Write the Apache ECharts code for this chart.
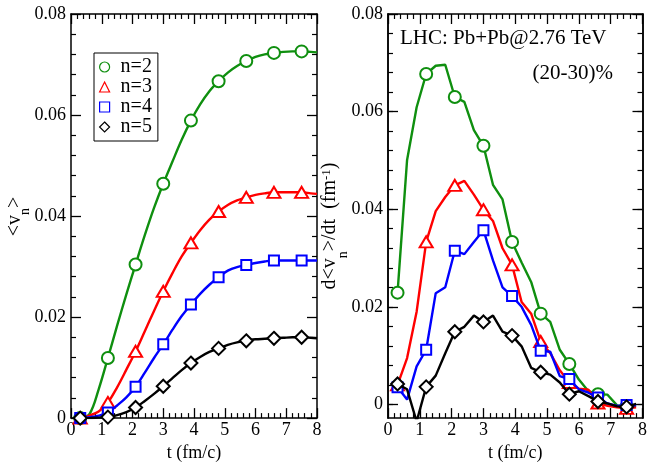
<!DOCTYPE html>
<html><head><meta charset="utf-8">
<script src="https://cdn.jsdelivr.net/npm/echarts@6/dist/echarts.min.js"></script>
<style>html,body{margin:0;padding:0;background:#fff}#c{width:650px;height:467px}</style>
</head><body><div id="c"></div>
<script>
// ---- data ----
const tLeft = [0.3,0.6,0.9,1.2,1.5,1.8,2.1,2.4,2.7,3.0,3.3,3.6,3.9,4.2,4.5,4.8,5.1,5.4,5.7,6.0,6.3,6.6,6.9,7.2,7.5,7.8,8.0];
const vn2 = [0,0.0008,0.0057,0.0119,0.0183,0.0245,0.0304,0.0362,0.0416,0.0464,0.0508,0.0551,0.0589,0.0621,0.0647,0.0667,0.0684,0.0697,0.0707,0.0715,0.0720,0.0723,0.0725,0.0726,0.0726,0.0725,0.0724];
const vn3 = [0,0.0005,0.0013,0.0031,0.0061,0.0096,0.0132,0.0172,0.0212,0.0251,0.0287,0.0320,0.0347,0.0372,0.0393,0.0409,0.0422,0.0431,0.0437,0.0442,0.0445,0.0447,0.0447,0.0447,0.0447,0.0445,0.0444];
const vn4 = [0,0.0002,0.0005,0.0011,0.0025,0.0041,0.0062,0.0090,0.0119,0.0146,0.0175,0.0202,0.0225,0.0246,0.0264,0.0279,0.0292,0.0299,0.0303,0.0307,0.0310,0.0312,0.0312,0.0312,0.0312,0.0312,0.0312];
const vn5 = [0,0,0.0001,0.0002,0.0006,0.0012,0.0021,0.0034,0.0048,0.0063,0.0079,0.0095,0.0109,0.0121,0.0131,0.0138,0.0145,0.0150,0.0153,0.0156,0.0157,0.0158,0.0159,0.0160,0.0160,0.0159,0.0158];

const tRight = [0.3,0.6,0.9,1.2,1.5,1.8,2.1,2.4,2.7,3.0,3.3,3.6,3.9,4.2,4.5,4.8,5.1,5.4,5.7,6.0,6.3,6.6,6.9,7.2,7.5,7.8];
const dv2 = [0.0229,0.0501,0.0609,0.0677,0.0694,0.0696,0.0630,0.0620,0.0562,0.0530,0.0450,0.0420,0.0333,0.0291,0.0251,0.0186,0.0169,0.0112,0.0083,0.0051,0.0027,0.0021,0.0020,-0.0002,-0.0004,-0.0003];
const dv3 = [0.0040,0.0095,0.0190,0.0333,0.0396,0.0425,0.0449,0.0458,0.0430,0.0399,0.0376,0.0320,0.0286,0.0210,0.0186,0.0129,0.0105,0.0070,0.0045,0.0032,0.0030,0.0003,-0.0003,-0.0006,-0.0008,-0.0006];
const dv4 = [0.0035,0.0010,0.0078,0.0112,0.0228,0.0240,0.0315,0.0308,0.0333,0.0357,0.0295,0.0240,0.0222,0.0200,0.0163,0.0110,0.0108,0.0058,0.0052,0.0031,0.0024,0.0014,0.0002,-0.0003,-0.0001,-0.0002];
const dv5 = [0.0042,0.0031,-0.0035,0.0036,0.0059,0.0105,0.0149,0.0159,0.0182,0.0169,0.0182,0.0149,0.0141,0.0119,0.0075,0.0066,0.0061,0.0045,0.0021,0.0027,0.0017,0.0006,0.0002,-0.0004,-0.0005,0.0001];

const seriesNames = ['n=2','n=3','n=4','n=5'];
const yMajorTicks = [0,0.02,0.04,0.06,0.08];
const yMinorTicks = [0,0.004,0.008,0.012,0.016,0.02,0.024,0.028,0.032,0.036,0.04,0.044,0.048,0.052,0.056,0.06,0.064,0.068,0.072,0.076,0.08];
const annotation1 = 'LHC: Pb+Pb@2.76 TeV';
const annotation2 = '(20-30)%';

// ---- styles ----
const FONT = '"Liberation Serif", "Times New Roman", serif';
const colors = ['#0f8f0f','#ff0000','#0000ff','#000000'];
const symbols = ['emptyCircle','emptyTriangle','emptyRect','emptyDiamond'];
const symSizes = [12,[13,11],10,13];
const legendIcons = ['circle','triangle','rect','diamond'];

const chart = echarts.init(document.getElementById('c'), null, {renderer:'canvas'});

function isMarker(i){ return i % 3 === 0 && i <= 24; }
function mkSeries(k, xs, ys, grid){
  return {
    type:'line', name: seriesNames[k],
    xAxisIndex: grid === 0 ? 0 : 2,
    yAxisIndex: grid === 0 ? 0 : 2,
    data: xs.map((t,i)=>{ const it = {value:[t, ys[i]]}; if(!isMarker(i)) it.symbol='none'; return it; }),
    symbol: symbols[k], symbolSize: symSizes[k], showAllSymbol: true,
    smooth: grid === 0 ? 0.35 : false,
    lineStyle:{color:colors[k], width:2.4},
    itemStyle:{color:colors[k], borderWidth:1.4},
    clip:true, animation:false, z: 2 + k
  };
}

const axisLineStyle = {color:'#000', width:1.5};
const lblFmt = v => Math.abs(v) < 1e-9 ? '0' : v.toFixed(2);

function xAx(grid, pos, showLabel){
  return {
    type:'value', gridIndex:grid, position:pos, min:0, max:8, interval:1,
    axisLine:{show:true, onZero:false, lineStyle:axisLineStyle},
    axisTick:{show:true, inside:true, length:10, lineStyle:{color:'#000', width:1.3}},
    minorTick:{show:true, splitNumber:5, length:5, lineStyle:{color:'#000', width:1.2}},
    splitLine:{show:false},
    axisLabel:{show:showLabel, color:'#000', fontFamily:FONT, fontSize:18, margin:3},
    name: showLabel ? 't (fm/c)' : '', nameLocation:'middle', nameGap:22,
    nameTextStyle:{color:'#000', fontFamily:FONT, fontSize:18}
  };
}
function yAxLeftPanel(pos, showLabel){
  return {
    type:'value', gridIndex:0, position:pos, min:0, max:0.08, interval:0.02,
    axisLine:{show:true, onZero:false, lineStyle:axisLineStyle},
    axisTick:{show:true, inside:true, length:10, lineStyle:{color:'#000', width:1.3}},
    minorTick:{show:true, splitNumber:5, length:5, lineStyle:{color:'#000', width:1.2}},
    splitLine:{show:false},
    axisLabel:{show:showLabel, color:'#000', fontFamily:FONT, fontSize:18, margin:5, formatter:lblFmt}
  };
}
function yAxRight(pos, ticks, len, showLabel){
  return {
    type:'value', gridIndex:1, position:pos, min:-0.0028, max:0.08,
    axisLine:{show:true, onZero:false, lineStyle:axisLineStyle},
    axisTick:{show:true, inside:true, length:len, customValues:ticks, lineStyle:{color:'#000', width:len>6?1.3:1.2}},
    splitLine:{show:false},
    axisLabel:{show:showLabel, customValues:yMajorTicks, color:'#000', fontFamily:FONT, fontSize:18, margin:5, formatter:lblFmt}
  };
}

const mStyle = {fontFamily:FONT, fontSize:20, lineHeight:20, color:'#000'};

const option = {
  animation:false,
  backgroundColor:'#fff',
  textStyle:{fontFamily:FONT},
  grid:[
    {left:71, top:14, width:246, height:408, containLabel:false},
    {left:388, top:14, width:262, height:408, containLabel:false}
  ],
  xAxis:[ xAx(0,'bottom',true), xAx(0,'top',false), xAx(1,'bottom',true), xAx(1,'top',false) ],
  yAxis:[
    yAxLeftPanel('left', true), yAxLeftPanel('right', false),
    yAxRight('left', yMajorTicks, 10, true), yAxRight('left', yMinorTicks, 5, false),
    yAxRight('right', yMajorTicks, 10, false), yAxRight('right', yMinorTicks, 5, false)
  ],
  legend:{
    show:true, orient:'vertical', left:94, top:53,
    padding:[4,6,4,5], itemGap:0, itemWidth:10, itemHeight:10,
    borderColor:'#000', borderWidth:1, backgroundColor:'#fff',
    selectedMode:false,
    textStyle:{fontFamily:FONT, fontSize:20, lineHeight:20, color:'#000', padding:[0,0,0,6]},
    data: seriesNames.map((n,k)=>({name:n, icon:legendIcons[k], itemStyle:{color:'#fff', borderColor:colors[k], borderWidth:1.2}}))
  },
  graphic:[
    {type:'text', x:400, y:38, style:{text:annotation1, font:'21px "Liberation Serif"', fill:'#000', align:'left', verticalAlign:'middle'}},
    {type:'text', x:613, y:73, style:{text:annotation2, font:'21px "Liberation Serif"', fill:'#000', align:'right', verticalAlign:'middle'}},
    {type:'text', x:15, y:216.5, rotation:Math.PI/2, style:{
      text:'{m|<v}{s|n}{m|>}', align:'center', verticalAlign:'middle',
      rich:{ m:mStyle, s:{fontFamily:FONT, fontSize:14, lineHeight:14, verticalAlign:'top', padding:[13,0,0,0], color:'#000'} }
    }},
    {type:'text', x:330, y:226, rotation:Math.PI/2, style:{
      text:'{m|d<v}{s|n}{m|>/dt  (fm}{p|-1}{m|)}', align:'center', verticalAlign:'middle',
      rich:{ m:mStyle,
        s:{fontFamily:FONT, fontSize:14, lineHeight:14, verticalAlign:'top', padding:[16,0,0,0], color:'#000'},
        p:{fontFamily:FONT, fontSize:13, lineHeight:5, verticalAlign:'top', color:'#000'} }
    }}
  ],
  series:[
    mkSeries(0, tLeft, vn2, 0), mkSeries(1, tLeft, vn3, 0), mkSeries(2, tLeft, vn4, 0), mkSeries(3, tLeft, vn5, 0),
    mkSeries(0, tRight, dv2, 1), mkSeries(1, tRight, dv3, 1), mkSeries(2, tRight, dv4, 1), mkSeries(3, tRight, dv5, 1)
  ]
};
chart.setOption(option);
</script></body></html>
